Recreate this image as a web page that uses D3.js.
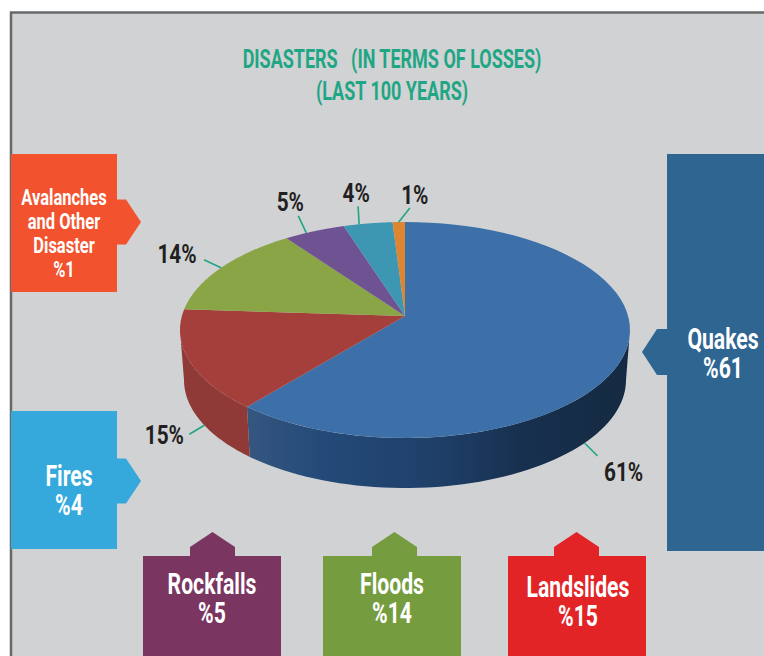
<!DOCTYPE html>
<html>
<head>
<meta charset="utf-8">
<script src="https://d3js.org/d3.v7.min.js"></script>
<style>
  html, body { margin: 0; padding: 0; background: #fff; }
  svg { display: block; }
  text { font-family: "Roboto", sans-serif; text-anchor: middle; dominant-baseline: central; white-space: pre; }
</style>
</head>
<body>
<div id="chart"></div>
<script>
// data
const categories = ["Quakes", "Landslides", "Floods", "Rockfalls", "Fires", "Avalanches and Other Disaster"];
const values = [61, 15, 14, 5, 4, 1];
const titleLines = ["DISASTERS   (IN TERMS OF LOSSES)", "(LAST 100 YEARS)"];

// colours, same order as categories
const sliceColors = ["#3d70a8", "#a53f3c", "#8aa546", "#6f5292", "#3d97b3", "#dd8530"];
const boxColors = ["#2f6591", "#e22426", "#769c40", "#7a3560", "#35a9dc", "#f2522d"];

// leader lines: nudge from the slice middle (deg), rim, line vector, text offset from line end
const leaders = [
  {nudge: 21.7, rim: "bottom", dx: 13, dy: 13, tx: 26, ty: 16},
  {nudge: -8, rim: "bottom", dx: -15, dy: 9, tx: -25, ty: 1},
  {nudge: 0, rim: "top", dx: -17, dy: -8, tx: -27, ty: -6},
  {nudge: -2.5, rim: "top", dx: -8, dy: -17, tx: -8, ty: -14},
  {nudge: -2.6, rim: "top", dx: -1, dy: -18, tx: -2, ty: -13},
  {nudge: 0, rim: "top", dx: 11, dy: -14, tx: 5, ty: -13}
];

// callout boxes, same order as categories
const boxes = [
  {x: 667, y: 154, w: 97, h: 397, side: "left", at: 352, lines: ["Quakes", "%61"], cx: 723, ty: 339, size: 29, step: 29},
  {x: 508, y: 556, w: 138, h: 100, side: "top", at: 576.5, lines: ["Landslides", "%15"], cx: 578, ty: 587, size: 29, step: 29},
  {x: 323, y: 556, w: 138, h: 100, side: "top", at: 394.5, lines: ["Floods", "%14"], cx: 392, ty: 584, size: 29, step: 29},
  {x: 143, y: 556, w: 138, h: 100, side: "top", at: 212.5, lines: ["Rockfalls", "%5"], cx: 212, ty: 584, size: 29, step: 29},
  {x: 11, y: 411, w: 106, h: 138, side: "right", at: 481, lines: ["Fires", "%4"], cx: 69, ty: 476, size: 29, step: 29},
  {x: 11, y: 154, w: 106, h: 138, side: "right", at: 222, lines: ["Avalanches", "and Other", "Disaster", "%1"], cx: 64, ty: 198, size: 22, step: 24}
];

const W = 764, H = 656;
const svg = d3.select("#chart").append("svg").attr("width", W).attr("height", H);

// no condensed font is installed, so squeeze the text horizontally
const squeeze = (x, y, sx) => `translate(${x},${y}) scale(${sx},1)`;

// panel
svg.append("rect").attr("x", 0).attr("y", 0).attr("width", W).attr("height", H).attr("fill", "#fff");
svg.append("rect").attr("x", 11).attr("y", 12.5).attr("width", W + 20).attr("height", H + 20)
  .attr("fill", "#d1d2d4").attr("stroke", "#66686a").attr("stroke-width", 2.5);

// title
svg.selectAll("text.title").data(titleLines).join("text")
  .attr("class", "title")
  .attr("transform", (d, i) => squeeze(392, 59 + i * 32, 0.72))
  .attr("font-size", 25).attr("font-weight", 700).attr("fill", "#1fa684")
  .text(d => d);

// pie angles, clockwise from the top
const pie = d3.pie().sort(null).value(d => d)(values);

// rim ellipses
const topX = d3.scaleLinear().domain([-1, 1]).range([180, 630]);
const topY = d3.scaleLinear().domain([-1, 1]).range([222, 438]);
const botX = d3.scaleLinear().domain([-1, 1]).range([184, 626]);
const botY = d3.scaleLinear().domain([-1, 1]).range([272, 488]);

// perspective: the pie centre sits above the centre of the ellipse
const d = 0.13;
function persp(a) {
  const x = Math.sin(a), v = -Math.cos(a), k = 1 - d * v;
  return [x * Math.sqrt(1 - d * d) / k, (v - d) / k];
}
const onTop = a => { const p = persp(a); return [topX(p[0]), topY(p[1])]; };
const onBot = a => { const p = persp(a); return [botX(p[0]), botY(p[1])]; };
const sweep = (a0, a1) => d3.range(0, 61).map(i => a0 + (a1 - a0) * i / 60);
const line = d3.line();

// walls
const rad = Math.PI / 180;
const frontR = Math.acos(-d), frontL = 2 * Math.PI - frontR;

const grad = svg.append("defs").append("linearGradient").attr("id", "wallBlue")
  .attr("gradientUnits", "userSpaceOnUse")
  .attr("x1", onTop(pie[0].endAngle)[0]).attr("x2", topX(1)).attr("y1", 0).attr("y2", 0);
[[0, "#35567f"], [0.2, "#234a78"], [0.5, "#1f3f68"], [0.72, "#17304e"], [1, "#152a42"]]
  .forEach(s => grad.append("stop").attr("offset", s[0]).attr("stop-color", s[1]));

const walls = [
  {a0: frontR, a1: pie[0].endAngle, fill: "url(#wallBlue)"},
  {a0: pie[0].endAngle, a1: frontL, fill: "#8f3a36"}
];
svg.selectAll("path.wall").data(walls).join("path")
  .attr("class", "wall")
  .attr("fill", w => w.fill)
  .attr("d", w => {
    const a = sweep(w.a0, w.a1);
    return line(a.map(onTop).concat(a.slice().reverse().map(onBot))) + "Z";
  });

// top face
const apex = [topX(0), topY(-d)];
svg.selectAll("path.slice").data(pie).join("path")
  .attr("class", "slice")
  .attr("fill", (s, i) => sliceColors[i])
  .attr("d", s => line([apex].concat(sweep(s.startAngle, s.endAngle).map(onTop))) + "Z");

// leaders and percent labels
const ends = pie.map((s, i) => {
  const l = leaders[i];
  const a = (s.startAngle + s.endAngle) / 2 + l.nudge * rad;
  const p = l.rim === "top" ? onTop(a) : onBot(a);
  return {p, q: [p[0] + l.dx, p[1] + l.dy], l, v: values[i]};
});
svg.selectAll("line.leader").data(ends).join("line")
  .attr("class", "leader")
  .attr("x1", e => e.p[0]).attr("y1", e => e.p[1])
  .attr("x2", e => e.q[0]).attr("y2", e => e.q[1])
  .attr("stroke", "#1fa684").attr("stroke-width", 1.6);
svg.selectAll("text.pct").data(ends).join("text")
  .attr("class", "pct")
  .attr("transform", e => squeeze(e.q[0] + e.l.tx, e.q[1] + e.l.ty, 0.8))
  .attr("font-size", 26).attr("fill", "#231f20").attr("font-weight", 700)
  .text(e => e.v + "%");

// callouts
function boxPath(b) {
  const r = b.x + b.w, o = b.y + b.h;
  if (b.side === "left") return `M${b.x},${b.y}H${r}V${o}H${b.x}V${b.at + 23}H${b.x - 10}L${b.x - 25},${b.at}L${b.x - 10},${b.at - 23}H${b.x}Z`;
  if (b.side === "right") return `M${b.x},${b.y}H${r}V${b.at - 22.5}H${r + 9}L${r + 24},${b.at}L${r + 9},${b.at + 22.5}H${r}V${o}H${b.x}Z`;
  return `M${b.x},${b.y}H${b.at - 22.5}V${b.y - 9}L${b.at},${b.y - 24}L${b.at + 22.5},${b.y - 9}V${b.y}H${r}V${o}H${b.x}Z`;
}
const callouts = svg.selectAll("g.callout").data(boxes).join("g").attr("class", "callout");
callouts.append("path").attr("d", boxPath).attr("fill", (b, i) => boxColors[i]);
callouts.selectAll("text").data(b => b.lines.map((t, i) => ({t, x: b.cx, y: b.ty + i * b.step, size: b.size}))).join("text")
  .attr("transform", t => squeeze(t.x, t.y, t.size > 25 ? 0.73 : 0.75))
  .attr("font-size", t => t.size).attr("font-weight", 700).attr("fill", "#fff")
  .text(t => t.t);
</script>
</body>
</html>
